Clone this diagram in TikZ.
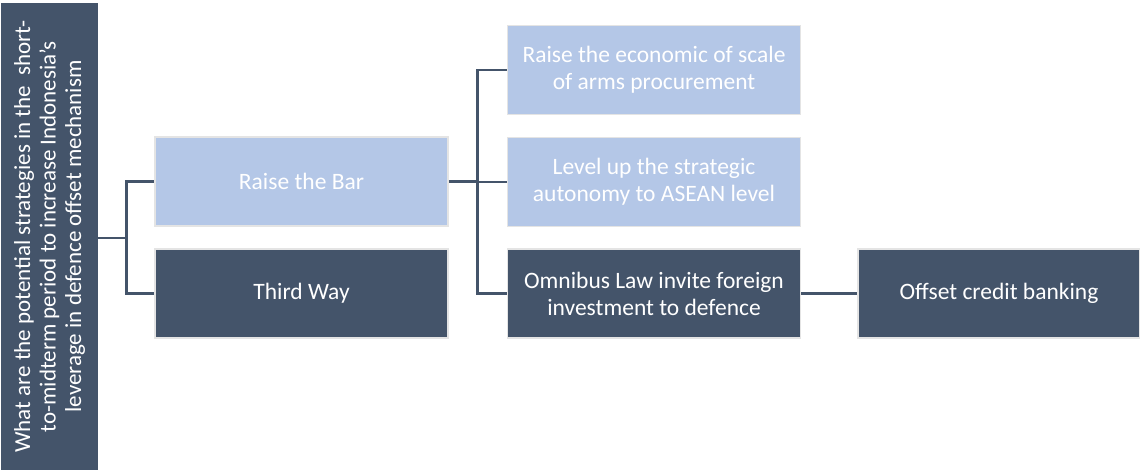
\documentclass[tikz,border=0pt]{standalone}
\usepackage{fontspec}
\setmainfont{Carlito}
\definecolor{slate}{HTML}{44546A}
\definecolor{pale}{HTML}{B4C7E7}
\definecolor{rim}{HTML}{E4E4E4}
\tikzset{
 box/.style={draw=rim, line width=1.5pt, text=white, align=center,
  minimum width=293pt, minimum height=89pt, font=\fontsize{23.5}{27}\selectfont},
 darkbox/.style={box, fill=slate},
 lightbox/.style={box, fill=pale},
 link/.style={draw=slate, line width=2.6pt}
}
\begin{document}
\begin{tikzpicture}[x=1pt, y=-1pt]
\useasboundingbox (0,0) rectangle (1140,470);
\node[fill=slate, rotate=90, minimum width=467pt, minimum height=97pt,
 align=center, text=white, font=\fontsize{23}{25.5}\selectfont, inner sep=0pt] (q) at (49.5,236.5)
 {What are the potential strategies in the\ \ short-\\to-midterm period to increase Indonesia’s\\leverage in defence offset mechanism};
\node[lightbox] (bar) at (301.5,181.5) {Raise the Bar};
\node[darkbox] (third) at (301.5,293.5) {Third Way};
\node[lightbox] (scale) at (654,70) {Raise the economic of scale\\of arms procurement};
\node[lightbox] (asean) at (654,182) {Level up the strategic\\autonomy to ASEAN level};
\node[darkbox] (omni) at (654,293.5) {Omnibus Law invite foreign\\investment to defence};
\node[darkbox, minimum width=282pt] (bank) at (999,293.5) {Offset credit banking};
\draw[link] (q.south |- 0,238) -- ++(28,0) coordinate (j1) |- (bar.west);
\draw[link] (j1) |- (third.west);
\draw[link] (bar.east) -- ++(29,0) coordinate (j2) |- (scale.west);
\draw[link] (j2) |- (asean.west);
\draw[link] (j2) |- (omni.west);
\draw[link] (omni) -- (bank);
\end{tikzpicture}
\end{document}
